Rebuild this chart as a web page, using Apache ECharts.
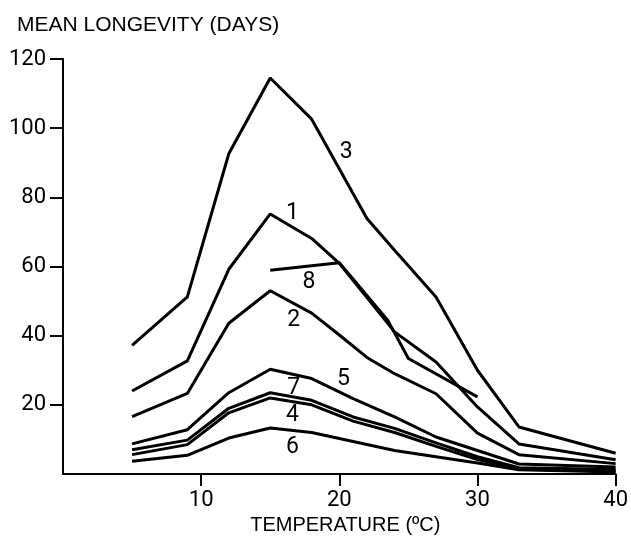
<!DOCTYPE html>
<html>
<head>
<meta charset="utf-8">
<title>Mean longevity vs temperature</title>
<script src="https://cdn.jsdelivr.net/npm/echarts@6.0.0/dist/echarts.min.js"></script>
<style>
  html, body { margin: 0; padding: 0; background: #fff; }
  #chart { width: 631px; height: 545px; }
</style>
</head>
<body>
<div id="chart"></div>
<script>
// temperature (deg C) / mean longevity (days), one pair per curve
var temps1 = [5, 9, 12, 15, 18, 20, 24, 27, 30, 33, 40];
var days1 = [24.0, 32.7, 59.2, 75.2, 68.1, 60.9, 41.1, 32.4, 19.4, 8.7, 4.1];

var temps2 = [5, 9, 12, 15, 18, 20, 22, 24, 27, 30, 33, 40];
var days2 = [16.6, 23.3, 43.6, 53.0, 46.5, 40.2, 33.7, 29.0, 23.2, 11.8, 5.6, 3.0];

var temps3 = [5, 9, 12, 15, 18, 22, 24, 27, 30, 33, 40];
var days3 = [37.2, 51.2, 92.6, 114.5, 102.6, 73.9, 64.7, 51.2, 30.0, 13.6, 6.0];

var temps4 = [5, 9, 12, 15, 18, 21, 24, 27, 30, 33, 40];
var days4 = [5.6, 8.5, 17.7, 22.0, 20.0, 15.3, 12.0, 8.0, 4.2, 1.4, 0.9];

var temps5 = [5, 9, 12, 15, 18, 21, 24, 27, 30, 33, 40];
var days5 = [8.7, 12.8, 23.5, 30.3, 27.6, 21.8, 16.5, 10.7, 6.8, 2.9, 2.0];

var temps6 = [5, 9, 12, 15, 18, 24, 27, 30, 33, 40];
var days6 = [3.7, 5.4, 10.4, 13.3, 12.0, 6.8, 5.0, 3.2, 1.2, 0.6];

var temps7 = [5, 9, 12, 15, 18, 21, 24, 27, 30, 33, 40];
var days7 = [7.0, 9.8, 19.0, 23.5, 21.3, 16.5, 13.2, 9.0, 5.0, 1.8, 1.3];

var temps8 = [15, 20, 23.5, 25, 30];
var days8 = [58.9, 61.1, 44.5, 33.4, 22.3];

var xTicks = [10, 20, 30, 40];
var yTicks = [20, 40, 60, 80, 100, 120];

var font = 'Roboto';

function pairs(xs, ys) {
  return xs.map(function (x, i) { return [x, ys[i]]; });
}

// curve number written next to each line, anchored in data units
function curve(name, xs, ys, tag) {
  return {
    name: name,
    type: 'line',
    data: pairs(xs, ys),
    showSymbol: false,
    symbol: 'none',
    lineStyle: { color: '#000', width: 3 },
    markPoint: {
      symbol: 'rect',
      symbolSize: 1,
      itemStyle: { color: 'rgba(0,0,0,0)' },
      label: {
        show: true,
        position: 'inside',
        formatter: name,
        color: '#000',
        fontFamily: font,
        fontSize: 23
      },
      data: [{ coord: tag }]
    }
  };
}

var chart = echarts.init(document.getElementById('chart'));
chart.setOption({
  animation: false,
  backgroundColor: '#fff',
  title: {
    text: 'MEAN LONGEVITY (DAYS)',
    left: 12,
    top: 10,
    textStyle: { fontFamily: 'Liberation Sans', fontWeight: 'normal', fontSize: 21, color: '#000' }
  },
  grid: { left: 63, right: 14, top: 59, bottom: 71 },
  xAxis: {
    type: 'value',
    min: 0,
    max: 40,
    interval: 10,
    name: 'TEMPERATURE (ºC)',
    nameLocation: 'middle',
    nameGap: 41,
    nameTextStyle: { fontFamily: 'Liberation Sans', fontSize: 20, color: '#000', padding: [0, 0, 0, 12] },
    axisLine: { lineStyle: { color: '#000', width: 2 } },
    axisTick: { customValues: xTicks, length: 12, lineStyle: { color: '#000', width: 2 } },
    axisLabel: { customValues: xTicks, margin: 15, color: '#000', fontFamily: font, fontSize: 22 },
    splitLine: { show: false }
  },
  yAxis: {
    type: 'value',
    min: 0,
    max: 120,
    interval: 20,
    axisLine: { show: true, lineStyle: { color: '#000', width: 2 } },
    axisTick: { show: true, customValues: yTicks, length: 13, lineStyle: { color: '#000', width: 2 } },
    axisLabel: { customValues: yTicks, margin: 17, color: '#000', fontFamily: font, fontSize: 22 },
    splitLine: { show: false }
  },
  series: [
    curve('3', temps3, days3, [20.5, 93]),
    curve('1', temps1, days1, [16.6, 75.5]),
    curve('8', temps8, days8, [17.8, 55.5]),
    curve('2', temps2, days2, [16.7, 44.5]),
    curve('5', temps5, days5, [20.3, 27.3]),
    curve('7', temps7, days7, [16.7, 24.8]),
    curve('4', temps4, days4, [16.6, 17]),
    curve('6', temps6, days6, [16.6, 7.8])
  ]
});
</script>
</body>
</html>
